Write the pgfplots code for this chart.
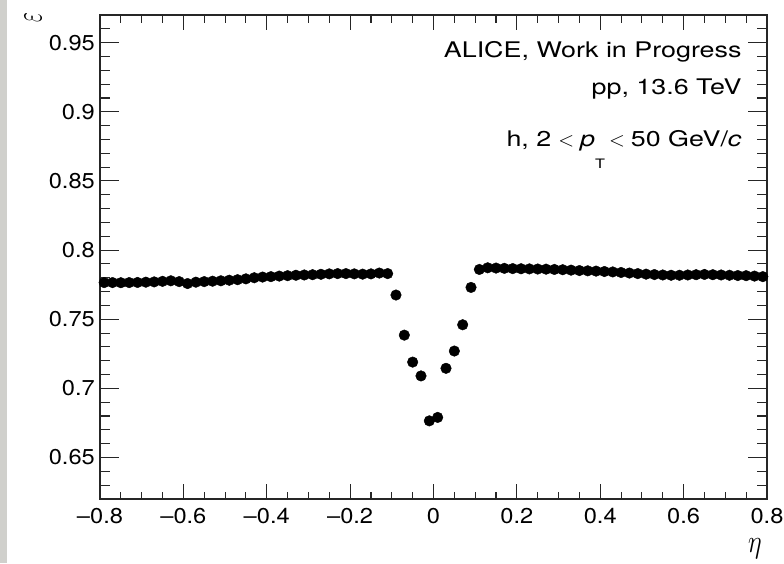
\documentclass[border=0pt]{standalone}
\usepackage{pgfplots}
\usepackage{pgfplotstable}
\pgfplotsset{compat=1.18}
\usepackage{fontspec}
\setmainfont{TeX Gyre Heros}
\newfontfamily\tickfont[FakeStretch=1.1]{TeX Gyre Heros}
\newfontfamily\labelfont[FakeStretch=1.25]{TeX Gyre Heros}

% tracking efficiency vs pseudorapidity, 0.02 wide bins
\pgfplotstableread{
eta eff
-0.79 0.7765
-0.77 0.7765
-0.75 0.7764
-0.73 0.7765
-0.71 0.7766
-0.69 0.7768
-0.67 0.7770
-0.65 0.7774
-0.63 0.7778
-0.61 0.7772
-0.59 0.7758
-0.57 0.7768
-0.55 0.7772
-0.53 0.7775
-0.51 0.7778
-0.49 0.7782
-0.47 0.7786
-0.45 0.7792
-0.43 0.7800
-0.41 0.7805
-0.39 0.7808
-0.37 0.7812
-0.35 0.7815
-0.33 0.7818
-0.31 0.7820
-0.29 0.7822
-0.27 0.7825
-0.25 0.7828
-0.23 0.7830
-0.21 0.7830
-0.19 0.7828
-0.17 0.7826
-0.15 0.7828
-0.13 0.7834
-0.11 0.7830
-0.09 0.7675
-0.07 0.7385
-0.05 0.7190
-0.03 0.7090
-0.01 0.6765
0.01 0.6790
0.03 0.7145
0.05 0.7270
0.07 0.7460
0.09 0.7730
0.11 0.7860
0.13 0.7872
0.15 0.7870
0.17 0.7868
0.19 0.7866
0.21 0.7865
0.23 0.7864
0.25 0.7863
0.27 0.7862
0.29 0.7860
0.31 0.7858
0.33 0.7855
0.35 0.7852
0.37 0.7850
0.39 0.7848
0.41 0.7845
0.43 0.7842
0.45 0.7838
0.47 0.7834
0.49 0.7830
0.51 0.7826
0.53 0.7823
0.55 0.7820
0.57 0.7818
0.59 0.7818
0.61 0.7820
0.63 0.7822
0.65 0.7824
0.67 0.7822
0.69 0.7820
0.71 0.7818
0.73 0.7816
0.75 0.7815
0.77 0.7812
0.79 0.7808
}\effdata

\pgfplotsset{
  rootframe/.style={
    at={(0,0)}, anchor=south west,
    scale only axis, width=667pt, height=484pt,
    xmin=-0.8, xmax=0.8, ymin=0.62, ymax=0.97,
    axis line style={line width=1.4pt, black!85},
    tick style={line width=1.1pt, black!85},
    tick align=inside,
  }
}

\begin{document}
\begin{tikzpicture}
\path[use as bounding box] (-100pt,-64pt) rectangle (684pt,499pt);
\fill[color={rgb,255:red,208;green,208;blue,204}] (-100pt,-64pt) rectangle (-93pt,499pt);

% x axis ticks and labels
\begin{axis}[rootframe,
  ytick=\empty,
  xtick={-0.8,-0.6,-0.4,-0.2,0,0.2,0.4,0.6,0.8},
  xticklabels={\textendash0.8,\textendash0.6,\textendash0.4,\textendash0.2,0,0.2,0.4,0.6,0.8},
  minor xtick={-0.75,-0.7,-0.65,-0.55,-0.5,-0.45,-0.35,-0.3,-0.25,-0.15,-0.1,-0.05,0.05,0.1,0.15,0.25,0.3,0.35,0.45,0.5,0.55,0.65,0.7,0.75},
  major tick length=15pt, minor tick length=7.5pt,
  xticklabel style={font=\tickfont\fontsize{21.5}{25}\selectfont, inner sep=0pt, yshift=-9pt},
]
\end{axis}

% y axis ticks, labels and data
\begin{axis}[rootframe,
  xtick=\empty,
  ytick={0.65,0.7,0.75,0.8,0.85,0.9,0.95},
  yticklabels={0.65,0.7,0.75,0.8,0.85,0.9,0.95},
  minor ytick={0.62,0.63,0.64,0.66,0.67,0.68,0.69,0.71,0.72,0.73,0.74,0.76,0.77,0.78,0.79,0.81,0.82,0.83,0.84,0.86,0.87,0.88,0.89,0.91,0.92,0.93,0.94,0.96,0.97},
  major tick length=19pt, minor tick length=10pt,
  yticklabel style={font=\tickfont\fontsize{21.5}{25}\selectfont, inner sep=0pt, xshift=-5pt},
]
\addplot[only marks, mark=*, mark size=5.3pt, black] table[x=eta, y=eff] {\effdata};
\end{axis}

% axis titles
\node[inner sep=0pt] at (-67pt,481pt) {\fontsize{20.74}{24}\selectfont\rotatebox{90}{\scalebox{1.03}[1.85]{$\varepsilon$}}};
\node[inner sep=0pt] at (655pt,-50pt) {\fontsize{24.88}{28}\selectfont\scalebox{1.05}[1.3]{$\eta$}};

% plot annotations
\begin{scope}[every node/.style={anchor=base east, inner sep=0pt, font=\labelfont\fontsize{21.5}{25}\selectfont}]
\node at (641.7pt,441pt) {ALICE, Work in Progress};
\node at (641.7pt,404pt) {pp, 13.6 TeV};
\node at (641.7pt,352pt) {h, 2\hspace{7pt}$<$\hspace{6pt}\textit{p}\raisebox{-22pt}{\fontsize{13}{13}\selectfont T}\hspace{4pt}$<$\hspace{6pt}50 GeV/\textit{c}};
\end{scope}
\end{tikzpicture}
\end{document}
